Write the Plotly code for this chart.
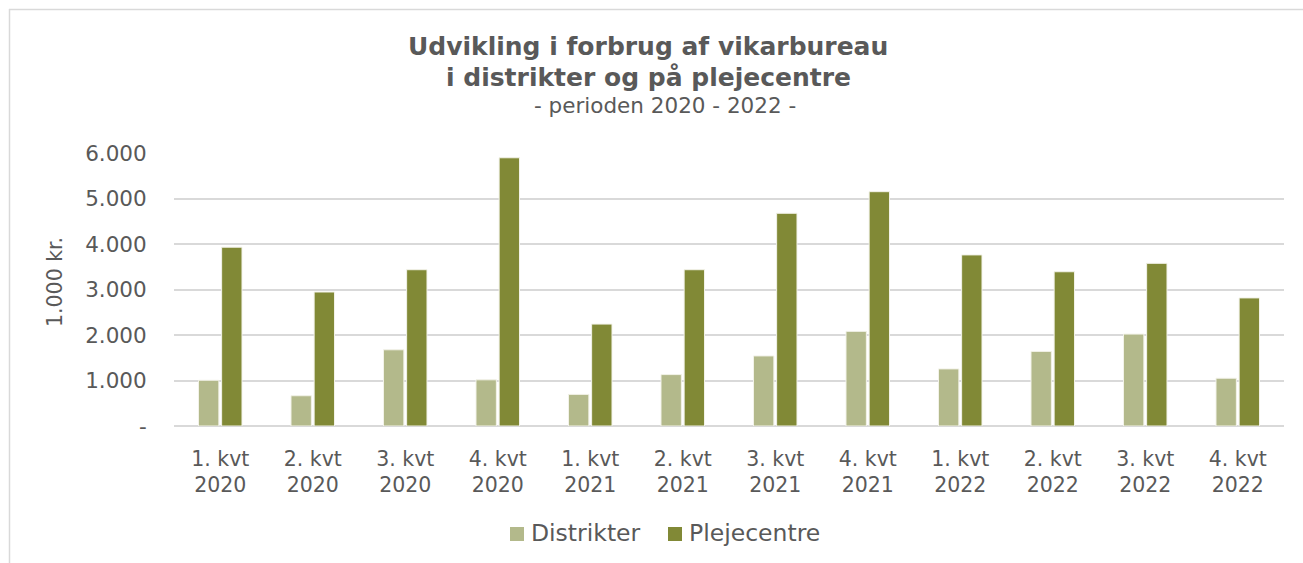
import plotly.graph_objects as go

categories = ["1. kvt<br>2020", "2. kvt<br>2020", "3. kvt<br>2020", "4. kvt<br>2020",
              "1. kvt<br>2021", "2. kvt<br>2021", "3. kvt<br>2021", "4. kvt<br>2021",
              "1. kvt<br>2022", "2. kvt<br>2022", "3. kvt<br>2022", "4. kvt<br>2022"]
distrikter = [1005, 665, 1675, 1015, 695, 1130, 1540, 2080, 1255, 1640, 2020, 1050]
plejecentre = [3930, 2945, 3435, 5895, 2240, 3435, 4675, 5150, 3760, 3390, 3575, 2815]
y_tickvals = [0, 1000, 2000, 3000, 4000, 5000, 6000]
y_ticktext = ["-", "1.000", "2.000", "3.000", "4.000", "5.000", "6.000"]

FONT = "DejaVu Sans"
GREY = "#595959"
C_D = "#B3B98B"
C_P = "#818936"
W, H = 1303, 563
L, R, T, B = 174, 19, 153, 137
pw, ph = W - L - R, H - T - B

def px(x):
    return (x - L) / pw

def py(y):
    return (H - B - y) / ph

fig = go.Figure()
fig.add_trace(go.Bar(x=categories, y=distrikter, name="Distrikter",
                     marker=dict(color=C_D, line=dict(color="#F2F2E8", width=1))))
fig.add_trace(go.Bar(x=categories, y=plejecentre, name="Plejecentre",
                     marker=dict(color=C_P, line=dict(color="#F2F2E8", width=1))))

fig.update_layout(
    width=W, height=H,
    margin=dict(l=L, r=R, t=T, b=B),
    paper_bgcolor="white", plot_bgcolor="white",
    barmode="group", bargap=0.5, bargroupgap=0.12,
    font=dict(family=FONT, color=GREY, size=20),
    showlegend=False,
    xaxis=dict(showgrid=False, showline=False, ticks="outside", ticklen=14,
               tickcolor="rgba(0,0,0,0)", tickfont=dict(size=20.5, color=GREY)),
    yaxis=dict(range=[0, 6000], tickvals=y_tickvals, ticktext=y_ticktext,
               showgrid=True, gridcolor="#D9D9D9", gridwidth=1.5,
               zeroline=True, zerolinecolor="#D9D9D9", zerolinewidth=1.5,
               showline=False, ticks="outside", ticklen=22, tickcolor="rgba(0,0,0,0)",
               tickfont=dict(size=21.5, color=GREY)),
)

# y-axis title
fig.add_annotation(text="1.000 kr.", xref="paper", yref="paper", x=px(55), y=py(282),
                   textangle=-90, showarrow=False, font=dict(size=20.5, color=GREY),
                   xanchor="center", yanchor="middle")

# titles
fig.add_annotation(text="<b>Udvikling i forbrug af vikarbureau</b>", xref="paper", yref="paper",
                   x=px(648), y=py(46), showarrow=False, font=dict(size=25, color=GREY),
                   xanchor="center", yanchor="middle")
fig.add_annotation(text="<b>i distrikter og på plejecentre</b>", xref="paper", yref="paper",
                   x=px(648), y=py(77), showarrow=False, font=dict(size=25, color=GREY),
                   xanchor="center", yanchor="middle")
fig.add_annotation(text="- perioden 2020 - 2022 -", xref="paper", yref="paper",
                   x=px(665), y=py(106), showarrow=False, font=dict(size=21.5, color=GREY),
                   xanchor="center", yanchor="middle")

# legend (manual)
legend_items = [("Distrikter", C_D, 510), ("Plejecentre", C_P, 668)]
for name, col, x0 in legend_items:
    fig.add_shape(type="rect", xref="paper", yref="paper", x0=px(x0), x1=px(x0 + 14),
                  y0=py(527), y1=py(541), fillcolor=col, line=dict(width=0))
    fig.add_annotation(text=name, xref="paper", yref="paper", x=px(x0 + 19), y=py(533),
                       showarrow=False, font=dict(size=23.5, color=GREY),
                       xanchor="left", yanchor="middle")

# outer chart border (top and left edges visible)
fig.add_shape(type="line", xref="paper", yref="paper", x0=px(9), x1=px(1303), y0=py(9.5), y1=py(9.5),
              line=dict(color="#D9D9D9", width=1.5))
fig.add_shape(type="line", xref="paper", yref="paper", x0=px(9.5), x1=px(9.5), y0=py(9), y1=py(563),
              line=dict(color="#D9D9D9", width=1.5))

fig.write_html("out.html", config={"displayModeBar": False},
               post_script="document.body.style.margin='0';document.body.style.overflow='hidden';")
